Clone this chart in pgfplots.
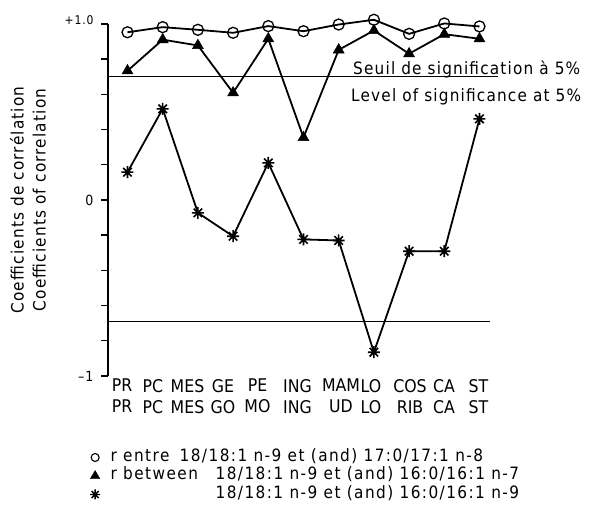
\documentclass[border=0pt]{standalone}
\usepackage{fontspec}
\setmainfont{DejaVu Sans Condensed}[LetterSpace=7]
\newfontfamily\catfont{DejaVu Sans Condensed}
\newfontfamily\legfont{DejaVu Sans Condensed}[LetterSpace=8.5]
\usepackage{pgfplots}
\pgfplotsset{compat=1.18}

\pgfdeclareplotmark{burst}{%
  \pgfpathmoveto{\pgfqpoint{-\pgfplotmarksize}{0pt}}\pgfpathlineto{\pgfqpoint{\pgfplotmarksize}{0pt}}%
  \pgfpathmoveto{\pgfqpoint{0pt}{-\pgfplotmarksize}}\pgfpathlineto{\pgfqpoint{0pt}{\pgfplotmarksize}}%
  \pgfpathmoveto{\pgfqpoint{-0.707\pgfplotmarksize}{-0.707\pgfplotmarksize}}\pgfpathlineto{\pgfqpoint{0.707\pgfplotmarksize}{0.707\pgfplotmarksize}}%
  \pgfpathmoveto{\pgfqpoint{-0.707\pgfplotmarksize}{0.707\pgfplotmarksize}}\pgfpathlineto{\pgfqpoint{0.707\pgfplotmarksize}{-0.707\pgfplotmarksize}}%
  \pgfusepathqstroke}
\pgfdeclareplotmark{ltick}{%
  \pgfpathmoveto{\pgfqpoint{-2\pgfplotmarksize}{0pt}}\pgfpathlineto{\pgfqpoint{0pt}{0pt}}%
  \pgfusepathqstroke}

\begin{document}
\begin{tikzpicture}
\begin{axis}[
  at={(108pt,134pt)}, anchor=south west,
  scale only axis, width=390pt, height=352pt,
  xmin=-0.554, xmax=10.526, ymin=-1, ymax=1, clip=false,
  axis y line=left, axis x line=bottom,
  y axis line style={-, line width=1.4pt},
  x axis line style={-, opacity=0},
  tick align=outside, major tick length=6pt,
  ytick={-1,-0.8,-0.6,-0.4,-0.2,0,0.2,0.4,0.6,0.8,1},
  yticklabels={–1,,,,,0,,,,,{\raisebox{7pt}{\fontsize{12}{14}\selectfont +1.0}}},
  yticklabel style={font=\fontsize{14}{16}\selectfont, xshift=-5pt},
  ylabel={Coefficients de corrélation\\Coefficients of correlation},
  ylabel style={align=center, font=\fontsize{17}{22}\selectfont, at={(axis description cs:-0.205,0.5)}, anchor=center},
  xtick={-0.156,0.724,1.705,2.713,3.693,4.830,6.065,6.918,8.026,8.991,9.972},
  xticklabels={{PR\\PR},{PC\\PC},{MES\\MES},{GE\\GO},{PE\\MO},{ING\\ING},{MAM\\UD},{LO\\LO},{COS\\RIB},{CA\\CA},{ST\\ST}},
  xtick style={opacity=0},
  ytick style={opacity=1, line width=1.4pt, black},
  xticklabel style={align=center, font=\catfont\fontsize{17.5}{21}\selectfont, anchor=north, inner sep=0pt, yshift=3pt},
  legend style={at={(axis description cs:-0.054,-0.199)}, anchor=north west, draw=none, fill=none,
    font=\legfont\fontsize{17}{20}\selectfont,
    nodes={inner sep=0.5pt, text height=12.5pt, text depth=5pt},
    /tikz/every odd column/.append style={column sep=10pt}},
  legend cell align=left,
]
% the left axis line and its ticks
\addplot[forget plot, line width=1.4pt, black] coordinates {(-0.554,-1) (-0.554,1)};
\addplot[forget plot, only marks, black, mark=ltick, mark size=3pt, mark options={line width=1.4pt}] coordinates {
(-0.574,-1) (-0.574,-0.8) (-0.574,-0.6) (-0.574,-0.4) (-0.574,-0.2) (-0.574,0) (-0.574,0.2) (-0.574,0.4) (-0.574,0.6) (-0.574,0.8) (-0.574,1)};
% significance thresholds
\addplot[forget plot, line width=0.9pt] coordinates {(-0.554,0.70) (10.526,0.70)};
\addplot[forget plot, line width=0.9pt] coordinates {(-0.554,-0.69) (10.30,-0.69)};
% r between 18/18:1 n-9 and 17:0/17:1 n-8
\addplot[forget plot, line width=1.8pt, mark=o, mark size=5.5pt, mark options={line width=1.3pt, fill=white}] coordinates {
(0,0.953) (1,0.982) (2,0.967) (3,0.950) (4,0.988) (5,0.959) (6,0.997) (7,1.024) (8,0.944) (9,1.003) (10,0.986)};
% r between 18/18:1 n-9 and 16:0/16:1 n-7
\addplot[forget plot, line width=1.8pt, mark=triangle*, mark size=6.3pt, mark options={line width=0.5pt, fill=black}] coordinates {
(0,0.734) (1,0.911) (2,0.878) (3,0.609) (4,0.916) (5,0.355) (6,0.853) (7,0.963) (8,0.831) (9,0.942) (10,0.916)};
% 18/18:1 n-9 and 16:0/16:1 n-9
\addplot[forget plot, line width=1.8pt, mark=burst, mark size=6pt, mark options={line width=1.6pt}] coordinates {
(0,0.158) (1,0.518) (2,-0.073) (3,-0.206) (4,0.211) (5,-0.224) (6,-0.230) (7,-0.865) (8,-0.291) (9,-0.291) (10,0.461)};
\addlegendimage{only marks, mark=o, mark size=4pt, mark options={line width=1.1pt}}
\addlegendimage{only marks, mark=triangle*, mark size=5.5pt, mark options={fill=black}}
\addlegendimage{only marks, mark=burst, mark size=5pt, mark options={line width=1.4pt}}
\legend{{\makebox[69pt][l]{r entre}18/18:1 n-9 et (and) 17:0/17:1 n-8},
        {\makebox[105pt][l]{r between}18/18:1 n-9 et (and) 16:0/16:1 n-7},
        {\makebox[105pt][l]{}18/18:1 n-9 et (and) 16:0/16:1 n-9}}
\end{axis}
\node[anchor=base west, inner sep=0pt, font=\fontsize{17}{20}\selectfont] at (353pt,435pt) {Seuil de signification à 5\%};
\node[anchor=base west, inner sep=0pt, font=\fontsize{17}{20}\selectfont] at (351pt,408pt) {Level of significance at 5\%};
\path (0,0) rectangle (590pt,510pt);
\end{tikzpicture}
\end{document}
